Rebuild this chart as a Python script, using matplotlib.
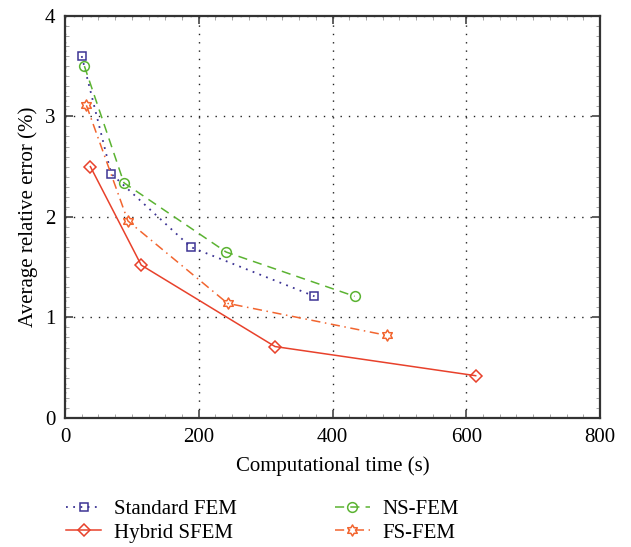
import matplotlib

matplotlib.use("Agg")
import matplotlib.pyplot as plt
import numpy as np
from matplotlib.path import Path
from matplotlib.ticker import MultipleLocator

plt.rcParams["font.family"] = ["Liberation Serif", "DejaVu Serif"]

# ── Data ───────────────────────────────────────────────
std_time = [25, 69, 188, 373]
std_err = [3.60, 2.43, 1.70, 1.21]

ns_time = [29, 88, 241, 433]
ns_err = [3.50, 2.34, 1.65, 1.21]

hyb_time = [38, 114, 314, 614]
hyb_err = [2.50, 1.52, 0.71, 0.42]

fs_time = [32, 94, 243, 482]
fs_err = [3.11, 1.96, 1.14, 0.82]

# ── Style ──────────────────────────────────────────────
BLUE = "#3D3494"
GREEN = "#5BB332"
RED = "#E8412B"
ORANGE = "#F2652F"
FS = 15

# six-pointed star marker
ang = np.pi / 2 + np.arange(12) * np.pi / 6
rad = np.where(np.arange(12) % 2 == 0, 1.0, 0.577)
verts = np.column_stack([rad * np.cos(ang), rad * np.sin(ang)])
verts = np.vstack([verts, verts[:1]])
hexstar = Path(verts, [Path.MOVETO] + [Path.LINETO] * 11 + [Path.CLOSEPOLY])

fig = plt.figure(figsize=(6.31, 5.47), dpi=100)
ax = fig.add_axes([0.103, 0.236, 0.848, 0.735])

ax.plot(std_time, std_err, linestyle=(0, (1, 3)), color=BLUE, lw=1.3,
        marker="s", ms=6, mfc="none", mew=1.1, label="Standard FEM")
ax.plot(hyb_time, hyb_err, linestyle="-", color=RED, lw=1.1,
        marker="D", ms=6, mfc="none", mew=1.1, label="Hybrid SFEM")
ax.plot(ns_time, ns_err, linestyle=(0, (6, 4)), color=GREEN, lw=1.1,
        marker="o", ms=7, mfc="none", mew=1.1, label="NS-FEM")
ax.plot(fs_time, fs_err, linestyle=(0, (6, 3, 1, 3)), color=ORANGE, lw=1.1,
        marker=hexstar, ms=8, mfc="none", mew=1.1, label="FS-FEM")

ax.set_xlim(0, 800)
ax.set_ylim(0, 4)
ax.xaxis.set_major_locator(MultipleLocator(200))
ax.yaxis.set_major_locator(MultipleLocator(1))
ax.xaxis.set_minor_locator(MultipleLocator(25))
ax.yaxis.set_minor_locator(MultipleLocator(0.1))

ax.grid(True, which="major", linestyle=(0, (1, 5)), color="#222222", lw=1.0)
ax.tick_params(which="both", direction="in", top=True, right=True,
               labelsize=FS, color="#444444")
ax.tick_params(which="major", length=6, width=1.2, pad=7)
ax.tick_params(which="minor", length=3, width=0.6, color="#999999")
for s in ax.spines.values():
    s.set_linewidth(1.6)
    s.set_color("#333333")

ax.set_xlabel("Computational time (s)", fontsize=FS, labelpad=7)
ax.set_ylabel("Average relative error (%)", fontsize=FS, labelpad=5)

handles, labels = ax.get_legend_handles_labels()
fig.legend(handles, labels, loc="center left", bbox_to_anchor=(0.075, 0.0475),
           ncol=2, frameon=False, fontsize=FS, columnspacing=4.7,
           handlelength=1.7, handletextpad=0.6, labelspacing=0.2,
           numpoints=1)

fig.savefig("out.png", dpi=100)
plt.close()
